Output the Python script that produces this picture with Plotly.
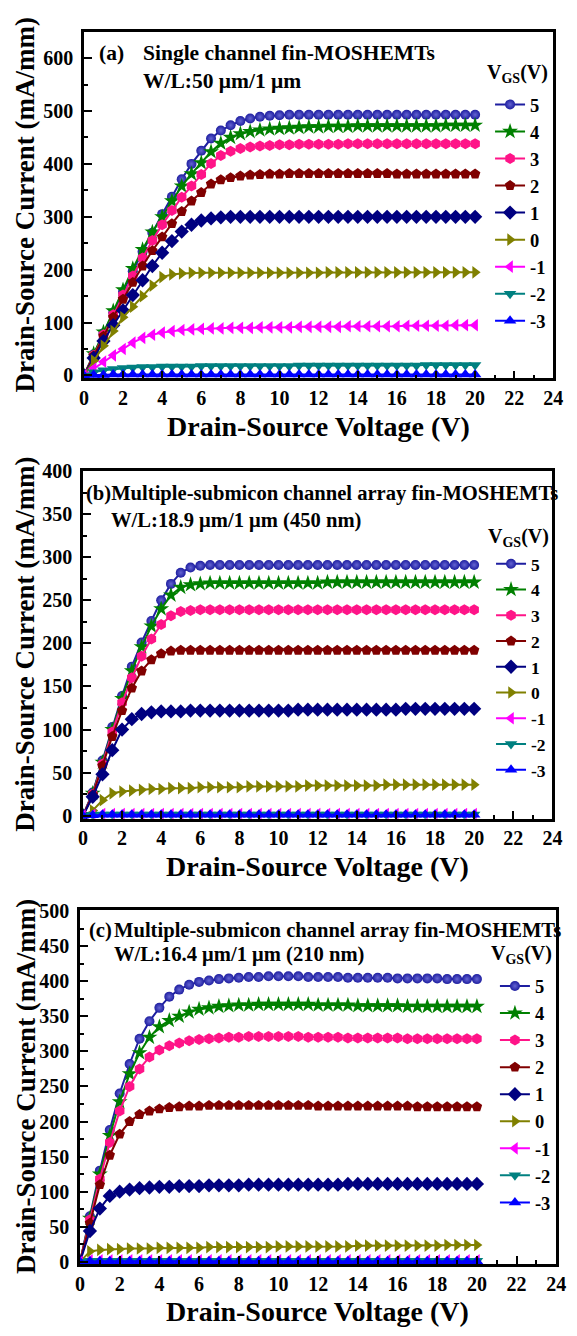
import plotly.graph_objects as go

# ---------------- data ----------------
VDS = [0, 0.5, 1, 1.5, 2, 2.5, 3, 3.5, 4, 4.5,
       5, 5.5, 6, 6.5, 7, 7.5, 8, 8.5, 9, 9.5,
       10, 10.5, 11, 11.5, 12, 12.5, 13, 13.5, 14, 14.5,
       15, 15.5, 16, 16.5, 17, 17.5, 18, 18.5, 19, 19.5,
       20]

VGS_LABELS = ["5", "4", "3", "2", "1", "0", "-1", "-2", "-3"]
X_TICKS = [0, 2, 4, 6, 8, 10, 12, 14, 16, 18, 20, 22, 24]

# panel (a) single channel, W/L 50/1
A_P5 = [0, 40, 80, 119, 158, 197, 234, 270, 305, 338,
        371, 400, 425, 448, 463, 473, 481, 486, 489, 491,
        492, 493, 493, 493, 493, 493, 493, 493, 493, 493,
        493, 493, 493, 493, 493, 493, 493, 493, 493, 493,
        493]
A_P4 = [0, 41, 82, 122, 162, 202, 238, 271, 300, 330,
        358, 381, 402, 423, 439, 450, 457, 461, 464, 466,
        467, 468, 469, 470, 470, 471, 471, 471, 472, 472,
        472, 472, 472, 472, 472, 472, 472, 473, 473, 473,
        473]
A_P3 = [0, 38, 77, 115, 152, 188, 222, 255, 285, 312,
        337, 358, 380, 401, 416, 424, 429, 432, 434, 435,
        436, 436, 437, 437, 437, 437, 437, 438, 438, 438,
        438, 438, 438, 438, 438, 438, 438, 438, 438, 438,
        438]
A_P2 = [0, 37, 74, 110, 144, 176, 207, 236, 262, 287,
        310, 330, 346, 362, 370, 374, 377, 379, 380, 381,
        381, 382, 382, 382, 382, 382, 382, 382, 382, 382,
        382, 382, 381, 381, 381, 381, 381, 381, 381, 381,
        381]
A_P1 = [0, 33, 65, 95, 123, 152, 180, 207, 232, 254,
        272, 285, 293, 297, 299, 300, 300, 300, 300, 300,
        300, 300, 300, 300, 300, 300, 300, 300, 300, 300,
        300, 300, 300, 300, 300, 300, 300, 300, 300, 300,
        300]
A_0 = [0, 28, 56, 84, 110, 130, 150, 170, 186, 191,
       193, 194, 194, 194, 194, 194, 194, 194, 194, 194,
       194, 194, 194, 194, 194, 195, 195, 195, 195, 195,
       195, 195, 195, 195, 195, 195, 195, 195, 195, 195,
       195]
A_M1 = [0, 13, 26, 38, 50, 62, 71, 77, 81, 84,
        86, 87, 88, 89, 89, 90, 90, 90, 91, 91,
        91, 91, 92, 92, 92, 92, 92, 93, 93, 93,
        93, 93, 93, 94, 94, 94, 94, 94, 95, 95,
        95]
A_M2 = [0, 6, 10, 12, 14, 15, 16, 16, 17, 17,
        17, 17, 18, 18, 18, 18, 18, 18, 18, 18,
        18, 18, 19, 19, 19, 19, 19, 19, 19, 19,
        19, 19, 19, 19, 19, 20, 20, 20, 20, 20,
        20]
A_M3 = [0, 1, 1, 2, 2, 2, 2, 2, 2, 2,
        2, 2, 2, 2, 2, 2, 2, 2, 2, 2,
        2, 2, 2, 2, 2, 2, 2, 2, 2, 2,
        2, 2, 2, 2, 2, 2, 2, 2, 2, 2,
        2]

# panel (b) channel array, W/L 18.9/1 (450 nm)
B_P5 = [0, 27, 64, 103, 139, 173, 201, 226, 250, 269,
        282, 288, 290, 291, 291, 291, 291, 291, 291, 291,
        291, 291, 291, 291, 291, 291, 291, 291, 291, 291,
        291, 291, 291, 291, 291, 291, 291, 291, 291, 291,
        291]
B_P4 = [0, 26, 62, 100, 136, 168, 196, 220, 240, 256,
        265, 268, 269, 270, 270, 270, 270, 270, 270, 270,
        270, 270, 270, 270, 270, 271, 271, 271, 271, 271,
        271, 271, 271, 271, 271, 271, 271, 271, 271, 271,
        271]
B_P3 = [0, 25, 60, 97, 131, 160, 185, 205, 222, 232,
        237, 238, 239, 239, 239, 239, 239, 239, 239, 239,
        239, 239, 239, 239, 239, 239, 239, 239, 239, 239,
        239, 239, 239, 239, 239, 239, 239, 239, 239, 239,
        239]
B_P2 = [0, 24, 58, 92, 122, 148, 168, 181, 188, 191,
        192, 192, 192, 192, 192, 192, 192, 192, 192, 192,
        192, 192, 192, 192, 192, 192, 192, 192, 192, 192,
        192, 192, 192, 192, 192, 192, 192, 192, 192, 192,
        192]
B_P1 = [0, 22, 48, 76, 100, 112, 118, 120, 121, 121,
        121, 122, 122, 122, 122, 122, 122, 122, 122, 122,
        122, 122, 123, 123, 123, 123, 123, 123, 123, 123,
        123, 123, 123, 124, 124, 124, 124, 124, 124, 124,
        124]
B_0 = [0, 6, 18, 26, 28, 29, 30, 31, 31, 32,
       32, 32, 33, 33, 33, 33, 33, 34, 34, 34,
       34, 34, 34, 35, 35, 35, 35, 35, 35, 35,
       35, 36, 36, 36, 36, 36, 36, 36, 36, 36,
       36]
B_M1 = [0, 1, 2, 2, 2, 2, 2, 2, 2, 2,
        2, 2, 2, 2, 2, 2, 2, 2, 2, 2,
        2, 2, 2, 2, 2, 2, 2, 2, 2, 2,
        2, 2, 2, 2, 2, 2, 2, 2, 2, 2,
        2]
B_M2 = [0, 1, 1.5, 1.5, 1.5, 1.5, 1.5, 1.5, 1.5, 1.5,
        1.5, 1.5, 1.5, 1.5, 1.5, 1.5, 1.5, 1.5, 1.5, 1.5,
        1.5, 1.5, 1.5, 1.5, 1.5, 1.5, 1.5, 1.5, 1.5, 1.5,
        1.5, 1.5, 1.5, 1.5, 1.5, 1.5, 1.5, 1.5, 1.5, 1.5,
        1.5]
B_M3 = [0, 0.5, 1, 1, 1, 1, 1, 1, 1, 1,
        1, 1, 1, 1, 1, 1, 1, 1, 1, 1,
        1, 1, 1, 1, 1, 1, 1, 1, 1, 1,
        1, 1, 1, 1, 1, 1, 1, 1, 1, 1,
        1]

# panel (c) channel array, W/L 16.4/1 (210 nm)
C_P5 = [0, 65, 130, 188, 240, 282, 318, 343, 362, 378,
        388, 395, 399, 401, 403, 404, 405, 406, 406, 407,
        407, 407, 407, 406, 406, 406, 406, 405, 405, 405,
        405, 405, 404, 404, 404, 404, 404, 403, 403, 403,
        403]
C_P4 = [0, 62, 125, 180, 228, 268, 298, 320, 335, 344,
        350, 356, 360, 362, 364, 365, 366, 366, 367, 367,
        367, 367, 367, 367, 366, 366, 366, 366, 365, 365,
        365, 365, 365, 364, 364, 364, 364, 364, 364, 364,
        364]
C_P3 = [0, 60, 118, 170, 215, 250, 275, 292, 302, 308,
        312, 315, 317, 318, 319, 320, 320, 321, 321, 321,
        321, 321, 321, 320, 320, 320, 320, 319, 319, 319,
        319, 319, 319, 318, 318, 318, 318, 318, 318, 318,
        318]
C_P2 = [0, 55, 110, 152, 182, 200, 210, 215, 218, 220,
        221, 222, 222, 223, 223, 223, 223, 223, 223, 223,
        223, 223, 223, 223, 222, 222, 222, 222, 222, 222,
        222, 222, 222, 222, 221, 221, 221, 221, 221, 221,
        221]
C_P1 = [0, 44, 76, 94, 100, 103, 105, 106, 107, 107,
        108, 108, 108, 109, 109, 109, 109, 110, 110, 110,
        110, 110, 110, 110, 110, 110, 110, 111, 111, 111,
        111, 111, 111, 111, 111, 111, 111, 111, 111, 111,
        111]
C_0 = [0, 15, 17, 18, 18, 19, 19, 19, 20, 20,
       20, 20, 20, 21, 21, 21, 21, 21, 21, 21,
       22, 22, 22, 22, 22, 22, 22, 22, 23, 23,
       23, 23, 23, 23, 23, 23, 23, 24, 24, 24,
       24]
C_M1 = [0, 2, 2, 2, 2, 2, 2, 2, 2, 2,
        2, 2, 2, 2, 2, 2, 2, 2, 2, 2,
        2, 2, 2, 2, 2, 2, 2, 2, 2, 2,
        2, 2, 2, 2, 2, 2, 2, 2, 2, 2,
        2]
C_M2 = [0, 1.5, 1.5, 1.5, 1.5, 1.5, 1.5, 1.5, 1.5, 1.5,
        1.5, 1.5, 1.5, 1.5, 1.5, 1.5, 1.5, 1.5, 1.5, 1.5,
        1.5, 1.5, 1.5, 1.5, 1.5, 1.5, 1.5, 1.5, 1.5, 1.5,
        1.5, 1.5, 1.5, 1.5, 1.5, 1.5, 1.5, 1.5, 1.5, 1.5,
        1.5]
C_M3 = [0, 1, 1, 1, 1, 1, 1, 1, 1, 1,
        1, 1, 1, 1, 1, 1, 1, 1, 1, 1,
        1, 1, 1, 1, 1, 1, 1, 1, 1, 1,
        1, 1, 1, 1, 1, 1, 1, 1, 1, 1,
        1]

PANEL_A = [A_P5, A_P4, A_P3, A_P2, A_P1, A_0, A_M1, A_M2, A_M3]
PANEL_B = [B_P5, B_P4, B_P3, B_P2, B_P1, B_0, B_M1, B_M2, B_M3]
PANEL_C = [C_P5, C_P4, C_P3, C_P2, C_P1, C_0, C_M1, C_M2, C_M3]

# ---------------- styles ----------------
COLORS = ["#1E1EA0", "#008000", "#FF1488", "#800000", "#000080",
          "#808000", "#FF00FF", "#008080", "#0000FF"]
SYMBOLS = ["circle", "star", "hexagon", "pentagon", "diamond",
           "triangle-right", "triangle-left", "triangle-down", "triangle-up"]
SIZES = [10, 12, 11, 11, 11, 11, 11, 11, 11]

FONT = "Liberation Serif"
W, H = 577, 1336

def px(x):
    return x / W

def py(y):
    return 1 - y / H

fig = go.Figure()

panels = [
    (PANEL_A, "x", "y", "legend"),
    (PANEL_B, "x2", "y2", "legend2"),
    (PANEL_C, "x3", "y3", "legend3"),
]
for data, xa, ya, lg in panels:
    for i, ys in enumerate(data):
        marker = dict(symbol=SYMBOLS[i], size=SIZES[i], color=COLORS[i],
                      line=dict(width=0))
        if i == 0:
            marker["gradient"] = dict(type="radial", color="#6464D2")
        fig.add_trace(go.Scatter(
            x=VDS, y=ys, mode="lines+markers", name=VGS_LABELS[i],
            line=dict(color=COLORS[i], width=2), marker=marker,
            xaxis=xa, yaxis=ya, legend=lg))

axis_common = dict(
    showline=True, linewidth=2.5, linecolor="black", mirror=True,
    ticks="inside", ticklen=8, tickwidth=2, tickcolor="black",
    showgrid=False, zeroline=False,
    tickfont=dict(family=FONT, size=20, color="black", weight="bold"),
)

# domains (pixel based)
xdom = [[px(81), px(563)], [px(80), px(562)], [px(77), px(566)]]
ydom = [[py(373), py(21)], [py(820), py(467)], [py(1272), py(913)]]
yranges = [[-5.6, 650], [-3.5, 400], [-3, 501]]
ydticks = [100, 50, 50]
yminor = [50, 25, 25]
yanchors = ["y", "y2", "y3"]
xanchors = ["x", "x2", "x3"]

for k in range(3):
    suf = "" if k == 0 else str(k + 1)
    fig.layout["xaxis" + suf] = dict(
        axis_common, domain=xdom[k], range=[0, 24], tickvals=X_TICKS,
        anchor=yanchors[k],
        minor=dict(ticks="inside", ticklen=4, tickwidth=2, tickcolor="black", dtick=1),
    )
    fig.layout["yaxis" + suf] = dict(
        axis_common, domain=ydom[k], range=yranges[k], dtick=ydticks[k], tick0=0,
        anchor=xanchors[k], ticklabelstandoff=4,
        minor=dict(ticks="inside", ticklen=4, tickwidth=2, tickcolor="black",
                   dtick=yminor[k], tick0=0),
    )

legend_common = dict(bgcolor="rgba(0,0,0,0)", borderwidth=0, xanchor="left",
                     yanchor="top", traceorder="normal", itemwidth=30)
fig.update_layout(
    legend=dict(legend_common, x=px(498), y=py(76),
                font=dict(family=FONT, size=18.5, color="black", weight="bold")),
    legend2=dict(legend_common, x=px(499), y=py(543),
                 font=dict(family=FONT, size=17.5, color="black", weight="bold")),
    legend3=dict(legend_common, x=px(503), y=py(971),
                 font=dict(family=FONT, size=18.5, color="black", weight="bold")),
)

ann = []
def add_text(text, x, y, size=20.6, xanchor="left", angle=0):
    ann.append(dict(text=text, x=px(x), y=py(y), xref="paper", yref="paper",
                    xanchor=xanchor, yanchor="middle", showarrow=False,
                    textangle=angle,
                    font=dict(family=FONT, size=size, color="black", weight="bold")))

# panel texts
add_text("(a)", 94, 43, size=21.5)
add_text("Single channel fin-MOSHEMTs", 140, 43, size=21.5)
add_text("W/L:50 \u03bcm/1 \u03bcm", 140, 71, size=21.5)
add_text("(b)Multiple-submicon channel array fin-MOSHEMTs", 81, 490)
add_text("W/L:18.9 \u03bcm/1 \u03bcm (450 nm)", 107, 517)
add_text("(c)", 84, 933)
add_text("Multiple-submicon channel array fin-MOSHEMTs", 110, 933)
add_text("W/L:16.4 \u03bcm/1 \u03bcm (210 nm)", 110, 958)

# legend headers
add_text("V<sub>GS</sub>(V)", 493, 63, size=20)
add_text("V<sub>GS</sub>(V)", 494, 535, size=20)
add_text("V<sub>GS</sub>(V)", 497, 958, size=20)

# axis titles
for yc in [197, 643, 1092]:
    add_text("Drain-Source Current (mA/mm)", 21, yc, size=27, xanchor="center", angle=-90)
for yc, xc in [(422, 322), (868, 321), (1320, 321)]:
    add_text("Drain-Source Voltage (V)", xc, yc, size=28, xanchor="center")

fig.update_layout(
    width=W, height=H, margin=dict(l=0, r=0, t=0, b=0),
    paper_bgcolor="white", plot_bgcolor="white",
    annotations=ann, showlegend=True,
)

fig.write_html("out.html")
